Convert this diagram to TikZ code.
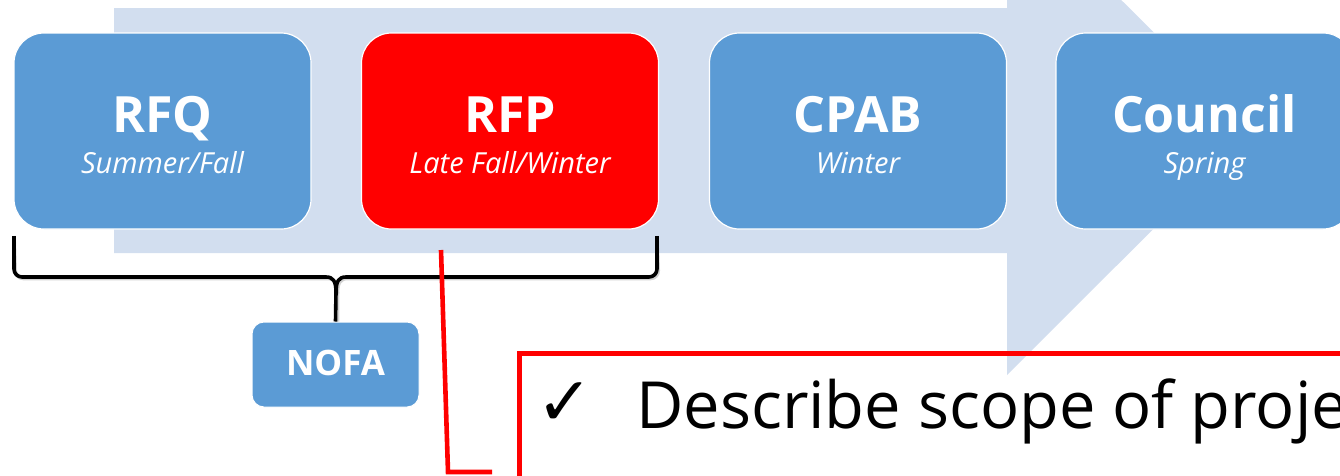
\documentclass[tikz,border=0pt]{standalone}
\usepackage{fontspec}
\setmainfont{Open Sans}
\newfontfamily\symfont{DejaVu Sans}
\definecolor{arrowbg}{RGB}{210,222,239}
\definecolor{boxblue}{RGB}{91,155,213}
\definecolor{calloutred}{RGB}{255,0,0}
\tikzset{
  stagebox/.style={draw=white, line width=1.2pt, fill=boxblue, rounded corners=30pt,
    minimum width=297pt, minimum height=196pt, inner sep=0pt},
  redbox/.style={stagebox, fill=calloutred},
  nofabox/.style={draw=white, line width=1pt, fill=boxblue, rounded corners=12pt,
    minimum width=167pt, minimum height=85pt, inner sep=0pt},
  titletext/.style={anchor=base, text=white, font=\fontsize{50}{60}\selectfont\bfseries, inner sep=0pt},
  subtext/.style={anchor=base, text=white, font=\fontsize{29}{35}\selectfont\itshape, inner sep=0pt},
  nofatext/.style={anchor=base, text=white, font=\fontsize{35}{42}\selectfont\bfseries, inner sep=0pt},
  bracestyle/.style={draw=black, line width=3.6pt, line join=round},
  braceshadow/.style={draw=black!35, line width=3.6pt, line join=round, opacity=0.5},
  redline/.style={draw=calloutred, line width=4.6pt},
  calloutbox/.style={draw=calloutred, line width=5pt, minimum width=900pt,
    minimum height=160pt, inner sep=0pt, anchor=north west},
  bigtext/.style={anchor=base west, text=black, font=\fontsize{65}{78}\selectfont, inner sep=0pt},
  checktext/.style={anchor=base west, text=black, font=\symfont\fontsize{68}{80}\selectfont, inner sep=0pt}
}
\begin{document}
\begin{tikzpicture}[x=1pt,y=-1pt]
\useasboundingbox (0,0) rectangle (1340,475);
\clip (0,0) rectangle (1340,475);
% background arrow
\fill[arrowbg] (114,8) -- (1007,8) -- (1007,-114) -- (1252,130.5) -- (1007,375) -- (1007,253) -- (114,253) -- cycle;
% stage boxes
\node[stagebox] (rfq) at (162.5,131) {};
\node[redbox] (rfp) at (510,131) {};
\node[stagebox] (cpab) at (858,131) {};
\node[stagebox] (council) at (1204.5,131) {};
\node[titletext] at ([yshift=-1pt]rfq.center) {RFQ};
\node[subtext] at ([yshift=-42pt]rfq.center) {Summer/Fall};
\node[titletext] at ([yshift=-1pt]rfp.center) {RFP};
\node[subtext] at ([yshift=-42pt]rfp.center) {Late Fall/Winter};
\node[titletext] at ([yshift=-1pt]cpab.center) {CPAB};
\node[subtext] at ([yshift=-42pt]cpab.center) {Winter};
\node[titletext] at ([yshift=-1pt]council.center) {Council};
\node[subtext] at ([yshift=-42pt]council.center) {Spring};
% NOFA
\node[nofabox] (nofa) at (335.5,364.5) {};
\node[nofatext] at ([yshift=-10.5pt]nofa.center) {NOFA};
% brace
\coordinate (bl) at (14,236);
\coordinate (br) at (657,236);
\draw[braceshadow, shift={(1.5,1.5)}] (bl) [rounded corners=8pt] -- (14,277) [sharp corners] -- (326,277)
  .. controls (333,277) and (336,281) .. (336,292) -- (336,320);
\draw[braceshadow, shift={(1.5,1.5)}] (br) [rounded corners=8pt] -- (657,277) [sharp corners] -- (346,277)
  .. controls (339,277) and (336,281) .. (336,292);
\draw[bracestyle] (bl) [rounded corners=8pt] -- (14,277) [sharp corners] -- (326,277)
  .. controls (333,277) and (336,281) .. (336,292) -- (nofa.north);
\draw[bracestyle] (br) [rounded corners=8pt] -- (657,277) [sharp corners] -- (346,277)
  .. controls (339,277) and (336,281) .. (336,292);
% callout
\node[calloutbox] (callout) at (517,351) {};
\node[checktext] (check) at (536,425) {✓};
\node[bigtext] (desc) at (636,428) {Describe scope of project};
% red connector
\coordinate (rs) at (441,250);
\coordinate (re) at (492,472);
\draw[redline] (rs) -- (448,472) -- (re);
\end{tikzpicture}
\end{document}
